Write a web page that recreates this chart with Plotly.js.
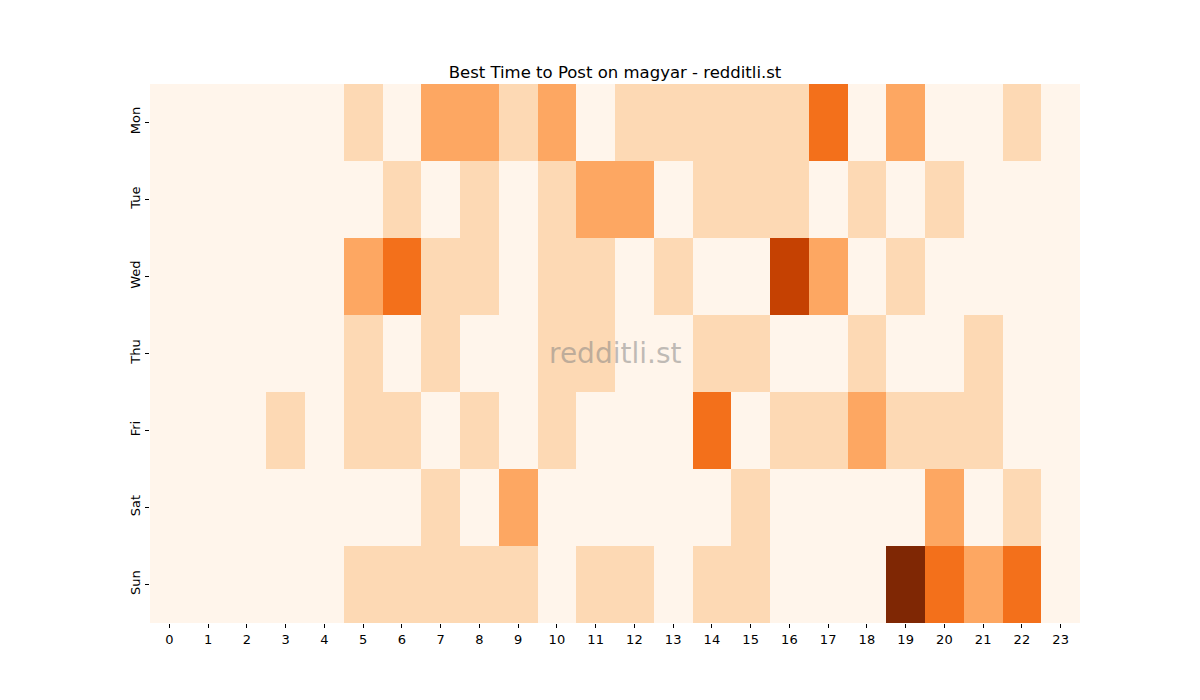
<!DOCTYPE html>
<html>
<head>
<meta charset="utf-8">
<script src="https://cdn.plot.ly/plotly-3.0.1.min.js"></script>
<style>html,body{margin:0;padding:0;background:#fff;}#chart{width:1200px;height:700px;}</style>
</head>
<body>
<div id="chart"></div>
<script>
const hours = [0,1,2,3,4,5,6,7,8,9,10,11,12,13,14,15,16,17,18,19,20,21,22,23];
const days = ["Mon","Tue","Wed","Thu","Fri","Sat","Sun"];
const mon = [0,0,0,0,0,1,0,2,2,1,2,0,1,1,1,1,1,3,0,2,0,0,1,0];
const tue = [0,0,0,0,0,0,1,0,1,0,1,2,2,0,1,1,1,0,1,0,1,0,0,0];
const wed = [0,0,0,0,0,2,3,1,1,0,1,1,0,1,0,0,4,2,0,1,0,0,0,0];
const thu = [0,0,0,0,0,1,0,1,0,0,1,1,0,0,1,1,0,0,1,0,0,1,0,0];
const fri = [0,0,0,1,0,1,1,0,1,0,1,0,0,0,3,0,1,1,2,1,1,1,0,0];
const sat = [0,0,0,0,0,0,0,1,0,2,0,0,0,0,0,1,0,0,0,0,2,0,1,0];
const sun = [0,0,0,0,0,1,1,1,1,1,0,1,1,0,1,1,0,0,0,5,3,2,3,0];
const levelColors = ["#fff5eb","#fdd9b4","#fda762","#f3701b","#c54102","#7f2704"];

const z = [mon,tue,wed,thu,fri,sat,sun];
const cs = [];
levelColors.forEach((c,i)=>{
  const a = i/levelColors.length, b = (i+1)/levelColors.length;
  cs.push([a,c]); cs.push([b,c]);
});

const trace = {
  type: "heatmap",
  x: hours,
  y: days,
  z: z,
  zmin: -0.5,
  zmax: 5.5,
  colorscale: cs,
  showscale: false,
  xgap: 0, ygap: 0,
  hoverinfo: "x+y+z"
};

const layout = {
  width: 1200, height: 700,
  margin: {l: 150, r: 120, t: 84, b: 77},
  paper_bgcolor: "#fff", plot_bgcolor: "#fff",
  font: {family: "DejaVu Sans, sans-serif", size: 13, color: "#000"},
  title: {text: "Best Time to Post on magyar - redditli.st", font: {size: 16.5, color: "#000"}, x: 0.5125, xanchor: "center", y: 0.889, yanchor: "bottom"},
  xaxis: {tickmode: "array", tickvals: hours, ticktext: hours.map(String), tickfont: {size: 13}, ticks: "outside", ticklen: 4, tickcolor: "#000", showgrid: false, zeroline: false, showline: false, range: [-0.5, 23.5]},
  yaxis: {tickmode: "array", tickvals: days, ticktext: days, tickfont: {size: 13}, autorange: "reversed", ticks: "outside", ticklen: 4, tickcolor: "#000", tickangle: -90, showgrid: false, zeroline: false, showline: false},
  annotations: [{text: "redditli.st", xref: "paper", yref: "paper", x: 0.5, y: 0.5, xanchor: "center", yanchor: "middle", showarrow: false, font: {size: 28, color: "rgba(128,128,128,0.5)"}}]
};

Plotly.newPlot("chart", [trace], layout, {displayModeBar: false, staticPlot: true});
</script>
</body>
</html>
